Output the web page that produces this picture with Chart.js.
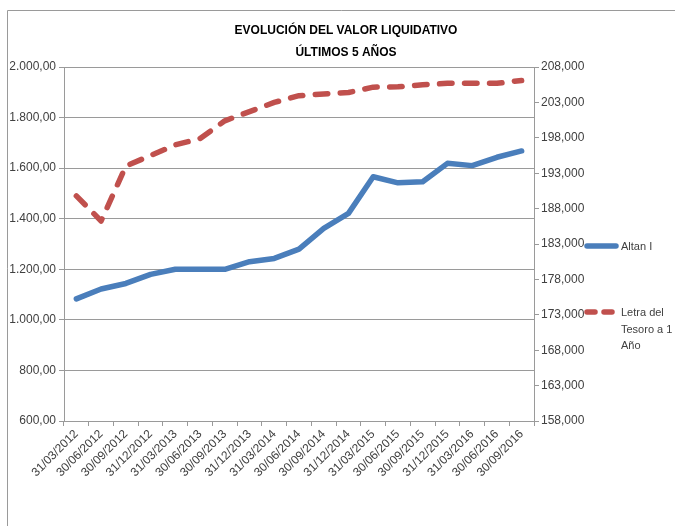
<!DOCTYPE html>
<html>
<head>
<meta charset="utf-8">
<title>Evolución del valor liquidativo</title>
<script src="https://cdn.jsdelivr.net/npm/chart.js@4/dist/chart.umd.min.js"></script>
<style>
  html, body { margin: 0; padding: 0; background: #fff; }
  #chart-valor { display: block; }
</style>
</head>
<body>
<canvas id="chart-valor" width="675" height="526"></canvas>
<script>
const titleLines = ['EVOLUCIÓN DEL VALOR LIQUIDATIVO', 'ÚLTIMOS 5 AÑOS'];

const fechas = ['31/03/2012', '30/06/2012', '30/09/2012', '31/12/2012', '31/03/2013', '30/06/2013',
  '30/09/2013', '31/12/2013', '31/03/2014', '30/06/2014', '30/09/2014', '31/12/2014', '31/03/2015',
  '30/06/2015', '30/09/2015', '31/12/2015', '31/03/2016', '30/06/2016', '30/09/2016'];

const altanI = [1083, 1122, 1144, 1180, 1200, 1200, 1200, 1230, 1243, 1280, 1362, 1421, 1566,
  1542, 1546, 1619, 1610, 1643, 1668];

const letraTesoro = [189.8, 186.25, 194.0, 195.5, 197.0, 197.9, 200.4, 201.7, 203.0, 203.95, 204.2,
  204.4, 205.15, 205.2, 205.5, 205.7, 205.7, 205.7, 206.1];

const leftTicks = { min: 600, max: 2000, step: 200 };
const rightTicks = { min: 158, max: 208, step: 5 };

const legendLabels = [['Altan I'], ['Letra del', 'Tesoro a 1', 'Año']];

const FONT = "'Liberation Sans Narrow', 'Liberation Sans', sans-serif";
const TEXT_COLOR = '#404040';
const GRID_COLOR = '#9a9a9a';

// 1.800,00 style
function fmtLeft(v) {
  const parts = v.toFixed(2).split('.');
  const ent = parts[0].replace(/\B(?=(\d{3})+(?!\d))/g, '.');
  return ent + ',' + parts[1];
}

// 203,000 style
function fmtRight(v) {
  return v.toFixed(3).replace('.', ',');
}

const decorPlugin = {
  id: 'excelDecor',
  beforeDraw(chart) {
    const ctx = chart.ctx;
    ctx.save();
    ctx.strokeStyle = GRID_COLOR;
    ctx.lineWidth = 1;
    ctx.beginPath();
    ctx.moveTo(7.5, chart.height);
    ctx.lineTo(7.5, 10.5);
    ctx.lineTo(chart.width, 10.5);
    ctx.stroke();
    ctx.restore();
  },
  afterDraw(chart) {
    const ctx = chart.ctx;
    ctx.save();
    // title
    ctx.fillStyle = '#000';
    ctx.font = 'bold 12px ' + FONT;
    ctx.textAlign = 'center';
    ctx.textBaseline = 'middle';
    titleLines.forEach(function (line, i) {
      ctx.fillText(line, 346, 31 + i * 22);
    });

    // legend
    const rows = [246, 312];
    ctx.font = '11px ' + FONT;
    ctx.textAlign = 'left';
    chart.data.datasets.forEach(function (ds, i) {
      const y = rows[i];
      ctx.strokeStyle = ds.borderColor;
      ctx.lineWidth = ds.borderWidth;
      ctx.lineCap = 'round';
      ctx.setLineDash(ds.borderDash && ds.borderDash.length ? [8, 9] : []);
      ctx.beginPath();
      ctx.moveTo(587, y);
      ctx.lineTo(616, y);
      ctx.stroke();
      ctx.setLineDash([]);
      ctx.fillStyle = TEXT_COLOR;
      legendLabels[i].forEach(function (txt, j) {
        ctx.fillText(txt, 621, y + 1 + j * 16.5);
      });
    });
    ctx.restore();
  }
};

function drawGraphValor(id) {
  const ctx = document.getElementById(id);
  return new Chart(ctx, {
    type: 'line',
    data: {
      labels: fechas,
      datasets: [{
        label: 'Altan I',
        data: altanI,
        yAxisID: 'y',
        borderColor: '#4a7ebb',
        backgroundColor: '#4a7ebb',
        borderWidth: 5.5,
        borderCapStyle: 'round',
        borderJoinStyle: 'round',
        pointRadius: 0,
        tension: 0
      }, {
        label: 'Letra del Tesoro a 1 Año',
        data: letraTesoro,
        yAxisID: 'y1',
        borderColor: '#c0504d',
        backgroundColor: '#c0504d',
        borderWidth: 5.5,
        borderDash: [12.5, 12.5],
        borderCapStyle: 'round',
        borderJoinStyle: 'round',
        pointRadius: 0,
        tension: 0
      }]
    },
    options: {
      responsive: false,
      animation: false,
      devicePixelRatio: 1,
      layout: {
        padding: { top: 67, left: 0, right: 0, bottom: 0 }
      },
      plugins: {
        legend: { display: false },
        title: { display: false },
        tooltip: { enabled: false }
      },
      scales: {
        x: {
          offset: true,
          grid: {
            offset: true,
            drawOnChartArea: false,
            drawTicks: true,
            tickLength: 5,
            color: GRID_COLOR
          },
          border: { color: GRID_COLOR },
          ticks: {
            autoSkip: false,
            minRotation: 45,
            maxRotation: 45,
            padding: 1,
            color: TEXT_COLOR,
            font: { family: FONT, size: 12 }
          },
          afterFit: function (scale) { scale.height = 105; }
        },
        y: {
          position: 'left',
          min: leftTicks.min,
          max: leftTicks.max,
          ticks: {
            stepSize: leftTicks.step,
            padding: 3,
            color: TEXT_COLOR,
            font: { family: FONT, size: 12 },
            callback: function (v) { return fmtLeft(v); }
          },
          grid: { color: GRID_COLOR, tickLength: 5 },
          border: { color: GRID_COLOR },
          afterFit: function (scale) { scale.width = 64; }
        },
        y1: {
          position: 'right',
          min: rightTicks.min,
          max: rightTicks.max,
          ticks: {
            stepSize: rightTicks.step,
            padding: 2,
            color: TEXT_COLOR,
            font: { family: FONT, size: 12 },
            callback: function (v) { return fmtRight(v); }
          },
          grid: { drawOnChartArea: false, color: GRID_COLOR, tickLength: 5 },
          border: { color: GRID_COLOR },
          afterFit: function (scale) { scale.width = 141; }
        }
      }
    },
    plugins: [decorPlugin]
  });
}

drawGraphValor('chart-valor');
</script>
</body>
</html>
